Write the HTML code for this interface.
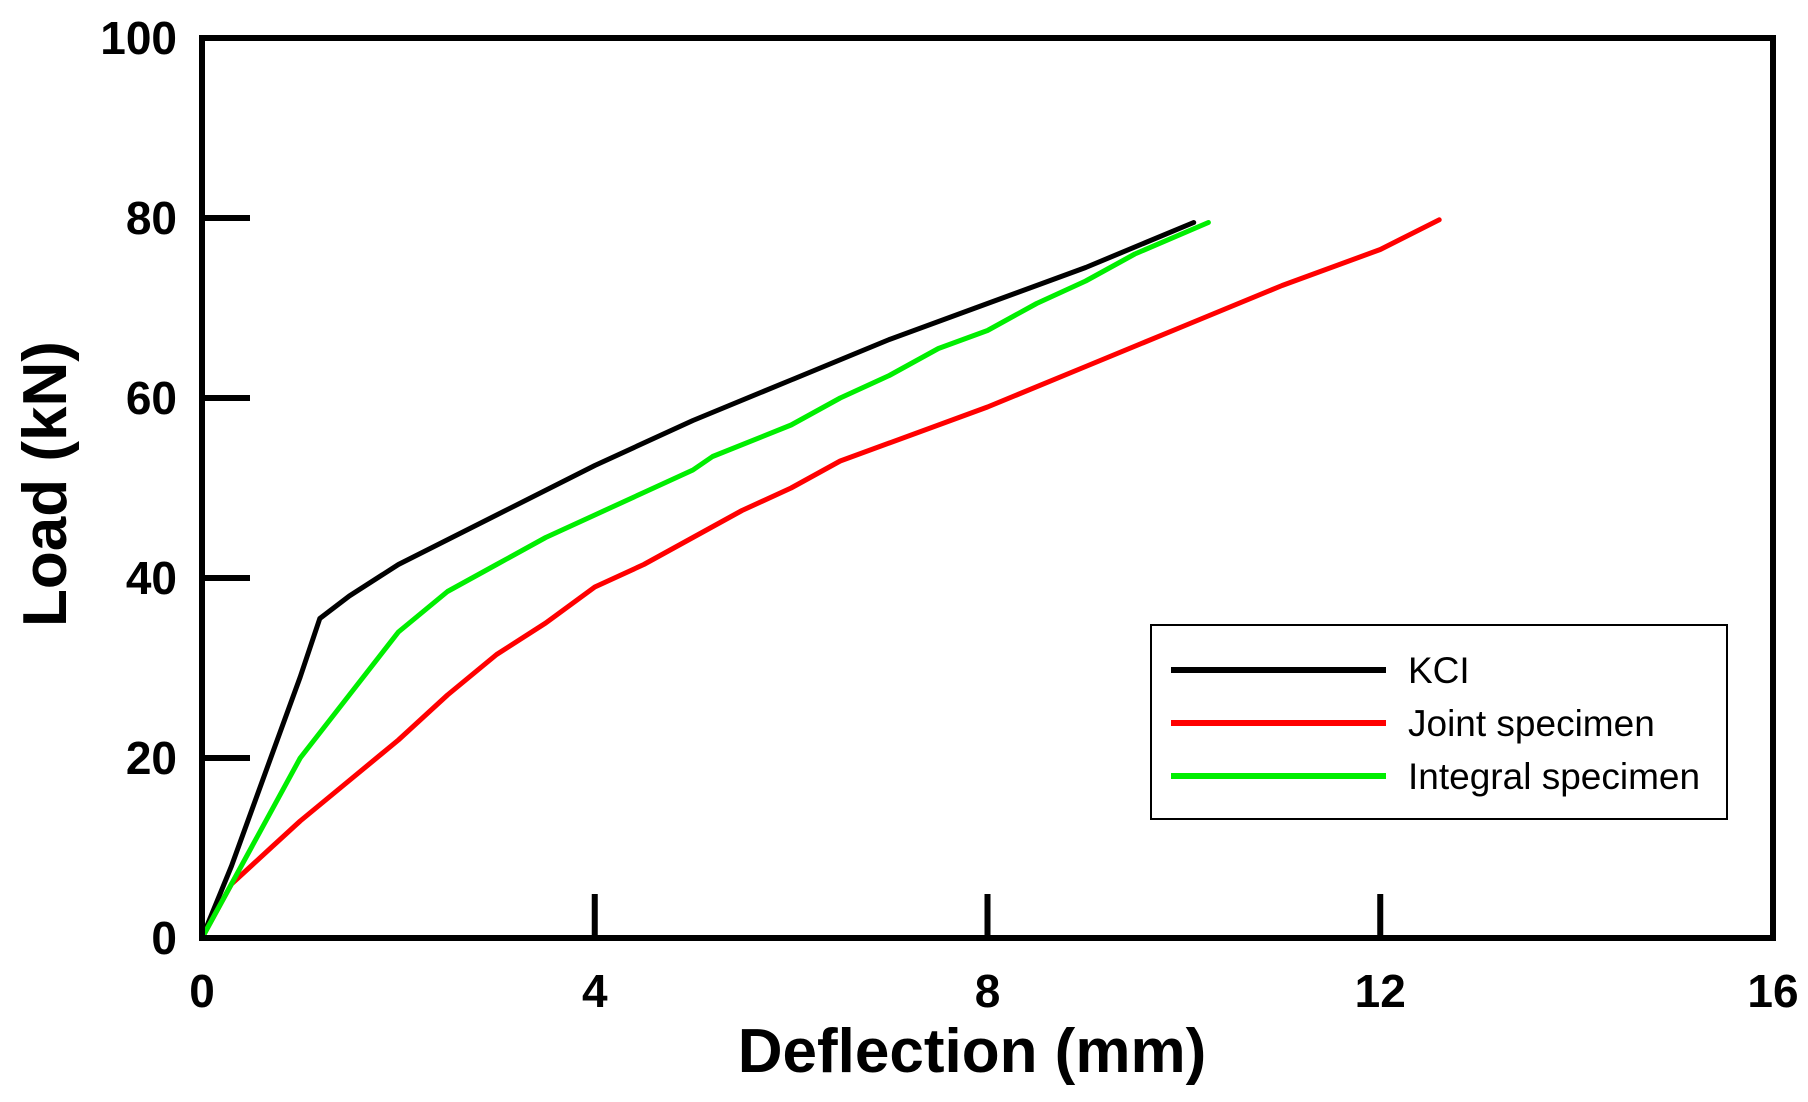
<!DOCTYPE html>
<html><head><meta charset="utf-8"><style>
html,body{margin:0;padding:0;background:#fff;}
svg{display:block;font-family:"Liberation Sans",Arial,sans-serif;}
</style></head><body>
<svg id="chart" width="1808" height="1102" viewBox="0 0 1808 1102" xmlns="http://www.w3.org/2000/svg"></svg>
<script>
const xTicks = [0, 4, 8, 12, 16];
const yTicks = [0, 20, 40, 60, 80, 100];
const seriesNames = ["KCI", "Joint specimen", "Integral specimen"];
const seriesColors = ["#000000", "#ff0000", "#00ee00"];
const kciX = [0,0.3,0.7,1.0,1.2,1.5,2,3,4,5,6,7,8,9,10.1];
const kciY = [0,8,20,29,35.5,38,41.5,47,52.5,57.5,62,66.5,70.5,74.5,79.5];
const jointX = [0,0.3,0.7,1,1.5,2,2.5,3,3.5,4,4.5,5,5.5,6,6.5,7,8,9,10,11,12,12.6];
const jointY = [0,6,10,13,17.5,22,27,31.5,35,39,41.5,44.5,47.5,50,53,55,59,63.5,68,72.5,76.5,79.8];
const integralX = [0,0.5,1,1.5,2,2.5,3,3.5,4,4.5,5,5.2,6,6.5,7,7.5,8,8.5,9,9.5,10.25];
const integralY = [0,10,20,27,34,38.5,41.5,44.5,47,49.5,52,53.5,57,60,62.5,65.5,67.5,70.5,73,76,79.5];

const NS = "http://www.w3.org/2000/svg";
const svg = document.getElementById("chart");
const X0 = 202, X1 = 1773, Y0 = 938, Y1 = 38;
const xs = v => X0 + (v - 0) / 16 * (X1 - X0);
const ys = v => Y0 - (v - 0) / 100 * (Y0 - Y1);
function mk(tag, attrs, parent) {
  const e = document.createElementNS(NS, tag);
  for (const k in attrs) e.setAttribute(k, attrs[k]);
  (parent || svg).appendChild(e);
  return e;
}
// series
const allX = [kciX, jointX, integralX], allY = [kciY, jointY, integralY];
const seriesKeys = ["kci", "joint", "integral"];
for (let s = 0; s < 3; s++) {
  const d = allX[s].map((x, i) => (i ? "L" : "M") + xs(x).toFixed(1) + "," + ys(allY[s][i]).toFixed(1)).join(" ");
  const p = mk("path", {d: d, fill: "none", stroke: seriesColors[s], "stroke-width": 5, "stroke-linejoin": "round", "stroke-linecap": "round"});
  
  
}
// frame
const frame = mk("rect", {x: X0, y: Y1, width: X1 - X0, height: Y0 - Y1, fill: "none", stroke: "#000", "stroke-width": 6});


// y ticks
yTicks.forEach(v => {
  if (v > 0 && v < 100) {
    const t = mk("line", {x1: X0, x2: X0 + 48, y1: ys(v), y2: ys(v), stroke: "#000", "stroke-width": 6});
    
    
  }
  const l = mk("text", {x: 177, y: ys(v) + 16, "text-anchor": "end", "font-size": 46, "font-weight": "bold"});
  l.textContent = v;
  
  
});
// x ticks
xTicks.forEach(v => {
  if (v > 0 && v < 16) {
    const t = mk("line", {x1: xs(v), x2: xs(v), y1: Y0, y2: Y0 - 44, stroke: "#000", "stroke-width": 6});
    
    
  }
  const l = mk("text", {x: xs(v), y: 1007, "text-anchor": "middle", "font-size": 46, "font-weight": "bold"});
  l.textContent = v;
  
  
});
// axis titles
const xt = mk("text", {x: 972, y: 1072, "text-anchor": "middle", "font-size": 62, "font-weight": "bold"});
xt.textContent = "Deflection (mm)";


const yt = mk("text", {x: 0, y: 0, "text-anchor": "middle", "font-size": 62, "font-weight": "bold", transform: "translate(66,484) rotate(-90)"});
yt.textContent = "Load (kN)";


// legend
const lg = mk("g", {});


mk("rect", {x: 1151, y: 625, width: 576, height: 194, fill: "#fff", stroke: "#000", "stroke-width": 2}, lg);
const ly = [670, 723, 776];
for (let s = 0; s < 3; s++) {
  const e = mk("g", {}, lg);
  
  
  mk("line", {x1: 1171, x2: 1386, y1: ly[s], y2: ly[s], stroke: seriesColors[s], "stroke-width": 6}, e);
  const t = mk("text", {x: 1408, y: ly[s] + 13, "font-size": 37}, e);
  t.textContent = seriesNames[s];
}
</script>
</body></html>
